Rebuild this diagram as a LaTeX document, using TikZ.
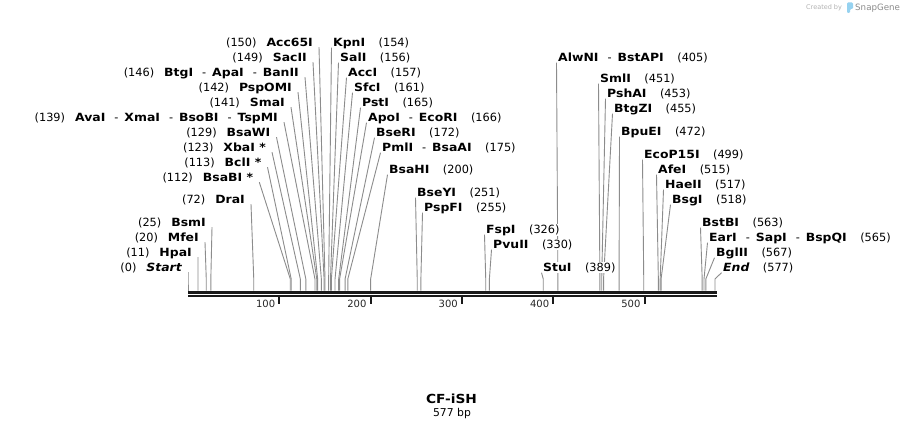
\documentclass[tikz,border=0pt]{standalone}
\usepackage{fontspec}
\setmainfont{DejaVu Sans}
\newfontfamily\nmfam[FakeStretch=1.1]{DejaVu Sans}
\newcommand\nmf{\nmfam\bfseries\fontsize{11.3}{13}\selectfont}
\newcommand\numf{\normalfont\fontsize{11.3}{13}\selectfont}
\newcommand\nm[1]{{\nmf #1}}
\newcommand\sepx{{\numf\hspace{9pt}-\hspace{6pt}}}
\pgfdeclarelayer{bg}
\pgfsetlayers{bg,main}
\definecolor{connc}{RGB}{140,140,140}
\definecolor{snapblue}{RGB}{150,210,240}
\tikzset{
  lbl/.style={fill=white, inner sep=0.5pt},
  connline/.style={draw=connc, line width=0.9pt},
  tickline/.style={draw=black!90, line width=2pt},
  ticklbl/.style={inner sep=0pt, text=black!85, font=\normalfont\fontsize{10}{12}\selectfont}
}
% left label: id, bp, y, right edge, number, names
\newcommand\LS[6]{%
  \node[lbl, anchor=base east] (#1) at ({#4+0.5}, {#3+4.2}) {{\numf(#5)}\hspace{10pt}#6};
  \coordinate (#1a) at ([xshift=5.5pt,yshift=-1pt]#1.base east);
  \coordinate (#1s) at ({188+#2*0.9133}, 279);
  \coordinate (#1p) at ({188+#2*0.9133}, 290.7);
  \begin{pgfonlayer}{bg}\draw[connline] (#1a) -- (#1s) -- (#1p);\end{pgfonlayer}
}
% right label: id, bp, y, left edge, names, number
\newcommand\RS[6]{%
  \node[lbl, anchor=base west] (#1) at ({#4-0.5}, {#3+4.2}) {#5\hspace{13.5pt}{\numf(#6)}};
  \coordinate (#1a) at ([xshift=-1pt,yshift=-1.5pt]#1.base west);
  \coordinate (#1s) at ({188+#2*0.9133}, 279);
  \coordinate (#1p) at ({188+#2*0.9133}, 290.7);
  \begin{pgfonlayer}{bg}\draw[connline] (#1a) -- (#1s) -- (#1p);\end{pgfonlayer}
}
\begin{document}
\begin{tikzpicture}[x=1pt,y=-1pt]
\useasboundingbox (0,0) rectangle (905,430);
\begin{pgfonlayer}{bg}\fill[white] (0,0) rectangle (905,430);\end{pgfonlayer}

% ruler
\coordinate (r0) at (188,292.2);
\coordinate (r1) at (716.5,292.2);
\coordinate (q0) at (188,295.8);
\coordinate (q1) at (716.5,295.8);
\draw[line width=3pt, black!90] (r0) -- (r1);
\draw[line width=2pt, black!90] (q0) -- (q1);
\foreach \t in {100,200,300,400,500} {
  \coordinate (tk\t) at ({188+\t*0.9133}, 295);
  \coordinate (tb\t) at ({188+\t*0.9133}, 304);
  \draw[tickline] (tk\t) -- (tb\t);
  \node[ticklbl, anchor=base east] (tl\t) at ({188+\t*0.9133-4}, 307.6) {\t};
}

% left labels
\LS{acc}{150}{42}{313}{150}{\nm{Acc65I}}
\LS{sac}{149}{57}{307}{149}{\nm{SacII}}
\LS{btg}{146}{72}{299}{146}{\nm{BtgI}\sepx\nm{ApaI}\sepx\nm{BanII}}
\LS{psp}{142}{87}{292}{142}{\nm{PspOMI}}
\LS{sma}{141}{102}{285}{141}{\nm{SmaI}}
\LS{ava}{139}{117}{278}{139}{\nm{AvaI}\sepx\nm{XmaI}\sepx\nm{BsoBI}\sepx\nm{TspMI}}
\LS{bsaw}{129}{132}{270.5}{129}{\nm{BsaWI}}
\LS{xba}{123}{147}{266}{123}{\nm{XbaI *}}
\LS{bcl}{113}{162}{261.5}{113}{\nm{BclI *}}
\LS{bsab}{112}{177}{253.3}{112}{\nm{BsaBI *}}
\LS{dra}{72}{199}{245}{72}{\nm{DraI}}
\LS{bsm}{25}{222}{206}{25}{\nm{BsmI}}
\LS{mfe}{20}{237}{199}{20}{\nm{MfeI}}
\LS{hpa}{11}{252}{192}{11}{\nm{HpaI}}
\LS{start}{0}{267}{182}{0}{\nm{\itshape Start}}

% right labels
\RS{kpn}{154}{42}{333}{\nm{KpnI}}{154}
\RS{sal}{156}{57}{340}{\nm{SalI}}{156}
\RS{acci}{157}{72}{348}{\nm{AccI}}{157}
\RS{sfc}{161}{87}{354}{\nm{SfcI}}{161}
\RS{pst}{165}{102}{362}{\nm{PstI}}{165}
\RS{apo}{166}{117}{368}{\nm{ApoI}\sepx\nm{EcoRI}}{166}
\RS{bser}{172}{132}{376}{\nm{BseRI}}{172}
\RS{pml}{175}{147}{382}{\nm{PmlI}\sepx\nm{BsaAI}}{175}
\RS{bsah}{200}{169}{389}{\nm{BsaHI}}{200}
\RS{bsey}{251}{192}{417}{\nm{BseYI}}{251}
\RS{pspf}{255}{207}{424}{\nm{PspFI}}{255}
\RS{fsp}{326}{229}{486}{\nm{FspI}}{326}
\RS{pvu}{330}{244}{493}{\nm{PvuII}}{330}
\RS{stu}{389}{267}{543}{\nm{StuI}}{389}
\RS{alw}{405}{57}{558}{\nm{AlwNI}\sepx\nm{BstAPI}}{405}
\RS{sml}{451}{78}{600}{\nm{SmlI}}{451}
\RS{psh}{453}{93}{607}{\nm{PshAI}}{453}
\RS{btgz}{455}{108}{614}{\nm{BtgZI}}{455}
\RS{bpu}{472}{131}{621}{\nm{BpuEI}}{472}
\RS{eco}{499}{154}{644}{\nm{EcoP15I}}{499}
\RS{afe}{515}{169}{658}{\nm{AfeI}}{515}
\RS{hae}{517}{184}{665}{\nm{HaeII}}{517}
\RS{bsg}{518}{199}{672}{\nm{BsgI}}{518}
\RS{bstb}{563}{222}{702}{\nm{BstBI}}{563}
\RS{ear}{565}{237}{709}{\nm{EarI}\sepx\nm{SapI}\sepx\nm{BspQI}}{565}
\RS{bgl}{567}{252}{716}{\nm{BglII}}{567}
\RS{end}{577}{267}{723}{\nm{\itshape End}}{577}

% title
\node[inner sep=0pt] (title) at (451.5,399) {\nmfam\bfseries\fontsize{12.5}{14}\selectfont CF-iSH};
\node[inner sep=0pt] (len) at (452,414) {\normalfont\fontsize{10.8}{12}\selectfont 577 bp};

% watermark
\node[anchor=base west, inner sep=0pt, text=black!30] (cb) at (806,9.5) {\normalfont\fontsize{6.5}{7}\selectfont Created by};
\fill[snapblue, rounded corners=1.2pt] (847,2.5) -- (853,2.5) -- (853,9) -- (850,9) -- (850,13) -- (847,13) -- cycle;
\node[anchor=base west, inner sep=0pt, text=black!45] (sg) at (855,10.5) {\normalfont\fontsize{8.7}{9}\selectfont SnapGene};
\end{tikzpicture}
\end{document}
